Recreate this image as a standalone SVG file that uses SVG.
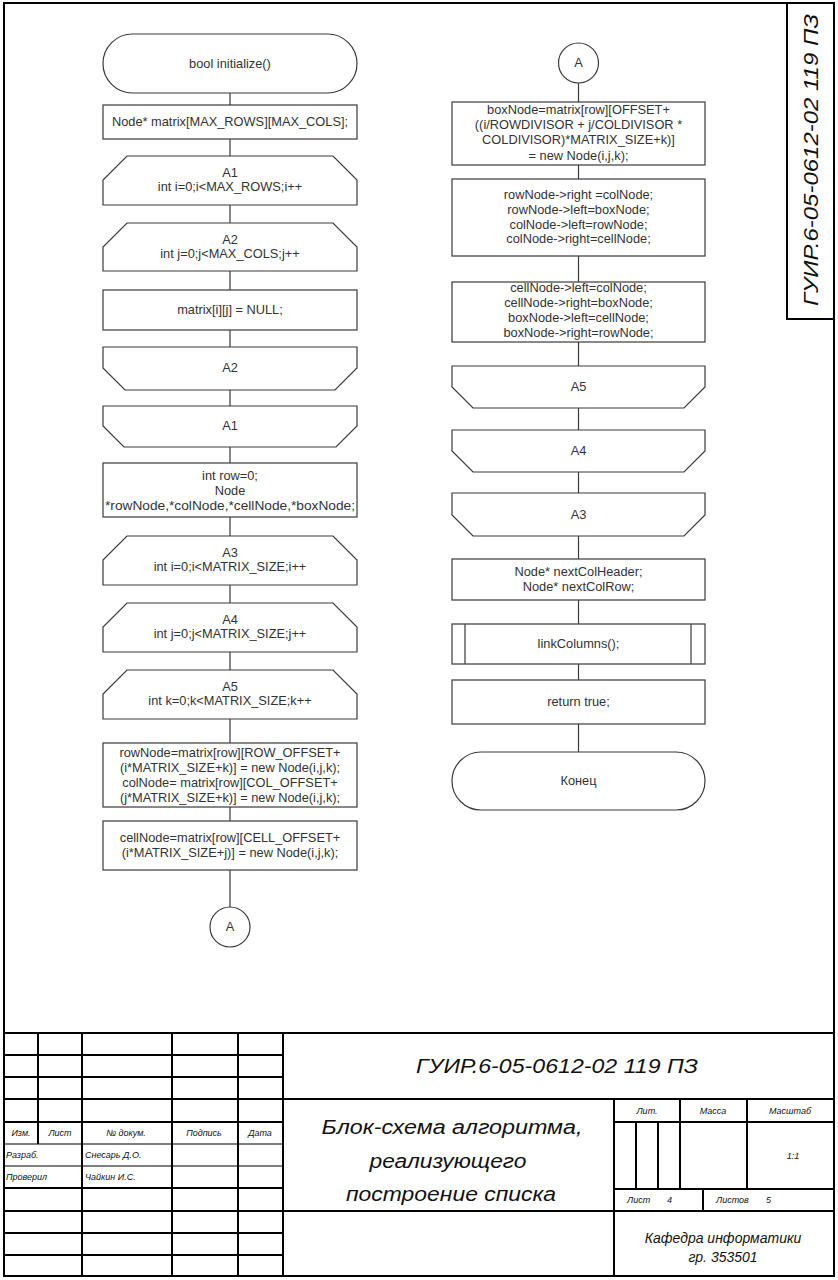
<svg xmlns="http://www.w3.org/2000/svg" width="838" height="1280" viewBox="0 0 838 1280">
<style>
.s{fill:#fff;stroke:#3a3a3a;stroke-width:1.2}
.c{fill:none;stroke:#3a3a3a;stroke-width:1.2}
.t{font-family:"Liberation Sans",Arial,sans-serif;font-size:12.8px;fill:#333;text-anchor:middle}
.f{fill:none;stroke:#000;stroke-width:2}
.fn{fill:none;stroke:#000;stroke-width:1.2}
.g{font-family:"Liberation Sans",Arial,sans-serif;font-style:italic;fill:#111}
.sm{font-size:9px}
.md{font-size:14px}
.lg{font-size:20px}
</style>
<rect width="838" height="1280" fill="#fff"/>
<g id="frame">
<rect class="f" x="4" y="3" width="830" height="1273"/>
<rect class="f" x="787" y="3" width="47" height="316"/>
<text class="g" transform="translate(818,160) rotate(-90)" text-anchor="middle" font-size="20" textLength="292" lengthAdjust="spacingAndGlyphs">ГУИР.6-05-0612-02 119 ПЗ</text>
</g>
<g id="title-block">
<line class="f" x1="4" y1="1033" x2="834" y2="1033"/>
<line class="f" x1="4" y1="1055" x2="283" y2="1055"/>
<line class="f" x1="4" y1="1077" x2="283" y2="1077"/>
<line class="f" x1="4" y1="1099" x2="834" y2="1099"/>
<line class="f" x1="4" y1="1122" x2="283" y2="1122"/>
<line class="fn" x1="4" y1="1144" x2="283" y2="1144"/>
<line class="fn" x1="4" y1="1166" x2="283" y2="1166"/>
<line class="f" x1="4" y1="1188" x2="283" y2="1188"/>
<line class="f" x1="4" y1="1211" x2="834" y2="1211"/>
<line class="f" x1="4" y1="1233" x2="283" y2="1233"/>
<line class="f" x1="4" y1="1255" x2="283" y2="1255"/>
<line class="f" x1="38" y1="1033" x2="38" y2="1144"/>
<line class="f" x1="82" y1="1033" x2="82" y2="1276"/>
<line class="f" x1="172" y1="1033" x2="172" y2="1276"/>
<line class="f" x1="238" y1="1033" x2="238" y2="1276"/>
<line class="f" x1="283" y1="1033" x2="283" y2="1276"/>
<line class="f" x1="614" y1="1099" x2="614" y2="1276"/>
<line class="f" x1="614" y1="1122" x2="834" y2="1122"/>
<line class="f" x1="614" y1="1189" x2="834" y2="1189"/>
<line class="f" x1="680" y1="1099" x2="680" y2="1189"/>
<line class="f" x1="747" y1="1099" x2="747" y2="1189"/>
<line class="f" x1="636" y1="1122" x2="636" y2="1189"/>
<line class="f" x1="658" y1="1122" x2="658" y2="1189"/>
<line class="f" x1="703" y1="1189" x2="703" y2="1211"/>
<text class="g sm" x="21" y="1136" text-anchor="middle">Изм.</text>
<text class="g sm" x="60" y="1136" text-anchor="middle">Лист</text>
<text class="g sm" x="126" y="1136" text-anchor="middle">№ докум.</text>
<text class="g sm" x="204" y="1136" text-anchor="middle">Подпись</text>
<text class="g sm" x="260" y="1136" text-anchor="middle">Дата</text>
<text class="g sm" x="6" y="1158">Разраб.</text>
<text class="g sm" x="85" y="1158">Снесарь Д.О.</text>
<text class="g sm" x="6" y="1180">Проверил</text>
<text class="g sm" x="85" y="1180">Чайкин И.С.</text>
<text class="g lg" x="557" y="1073" text-anchor="middle" textLength="282" lengthAdjust="spacingAndGlyphs">ГУИР.6-05-0612-02 119 ПЗ</text>
<text class="g lg" x="452" y="1134" text-anchor="middle" textLength="261" lengthAdjust="spacingAndGlyphs">Блок-схема алгоритма,</text>
<text class="g lg" x="448" y="1168" text-anchor="middle" textLength="157" lengthAdjust="spacingAndGlyphs">реализующего</text>
<text class="g lg" x="451" y="1201" text-anchor="middle" textLength="210" lengthAdjust="spacingAndGlyphs">построение списка</text>
<text class="g sm" x="647" y="1114" text-anchor="middle">Лит.</text>
<text class="g sm" x="713" y="1114" text-anchor="middle">Масса</text>
<text class="g sm" x="790" y="1114" text-anchor="middle">Масштаб</text>
<text class="g sm" x="793" y="1159" text-anchor="middle">1:1</text>
<text class="g sm" x="627" y="1203">Лист</text>
<text class="g sm" x="667" y="1203">4</text>
<text class="g sm" x="716" y="1203">Листов</text>
<text class="g sm" x="766" y="1203">5</text>
<text class="g md" x="723" y="1243" text-anchor="middle">Кафедра информатики</text>
<text class="g md" x="723" y="1262" text-anchor="middle">гр. 353501</text>
</g>
<g id="connectors">
<line class="c" x1="230" y1="93" x2="230" y2="907"/>
<line class="c" x1="578.5" y1="83" x2="578.5" y2="752"/>
</g>
<g id="n-start"><rect class="s" x="103" y="34" width="254" height="59" rx="29.5"/><text class="t" x="230" y="68">bool initialize()</text></g>
<g id="n-matrix"><rect class="s" x="103" y="105" width="254" height="34"/><text class="t" x="230" y="126">Node* matrix[MAX_ROWS][MAX_COLS];</text></g>
<g id="n-A1"><polygon class="s" points="127,156 333,156 357,180 357,205 103,205 103,180"/><text class="t" x="230" y="177">A1</text><text class="t" x="230" y="191">int i=0;i&lt;MAX_ROWS;i++</text></g>
<g id="n-A2"><polygon class="s" points="127,223 333,223 357,247 357,271 103,271 103,247"/><text class="t" x="230" y="244">A2</text><text class="t" x="230" y="258">int j=0;j&lt;MAX_COLS;j++</text></g>
<g id="n-null"><rect class="s" x="103" y="290" width="254" height="40"/><text class="t" x="230" y="314">matrix[i][j] = NULL;</text></g>
<g id="n-A2end"><polygon class="s" points="103,347 357,347 357,368 335,390 125,390 103,368"/><text class="t" x="230" y="372">A2</text></g>
<g id="n-A1end"><polygon class="s" points="103,406 357,406 357,426 336,447 124,447 103,426"/><text class="t" x="230" y="430">A1</text></g>
<g id="n-row"><rect class="s" x="103" y="463" width="254" height="54"/><text class="t" x="230" y="480">int row=0;</text><text class="t" x="230" y="495">Node</text><text class="t" x="230" y="510" textLength="250" lengthAdjust="spacingAndGlyphs">*rowNode,*colNode,*cellNode,*boxNode;</text></g>
<g id="n-A3"><polygon class="s" points="127,536 333,536 357,560 357,585 103,585 103,560"/><text class="t" x="230" y="557">A3</text><text class="t" x="230" y="571">int i=0;i&lt;MATRIX_SIZE;i++</text></g>
<g id="n-A4"><polygon class="s" points="127,603 333,603 357,627 357,652 103,652 103,627"/><text class="t" x="230" y="624">A4</text><text class="t" x="230" y="638">int j=0;j&lt;MATRIX_SIZE;j++</text></g>
<g id="n-A5"><polygon class="s" points="127,670 333,670 357,694 357,719 103,719 103,694"/><text class="t" x="230" y="691">A5</text><text class="t" x="230" y="705">int k=0;k&lt;MATRIX_SIZE;k++</text></g>
<g id="n-rowNode"><rect class="s" x="103" y="743" width="254" height="64"/><text class="t" x="230" y="757">rowNode=matrix[row][ROW_OFFSET+</text><text class="t" x="230" y="772">(i*MATRIX_SIZE+k)] = new Node(i,j,k);</text><text class="t" x="230" y="787">colNode= matrix[row][COL_OFFSET+</text><text class="t" x="230" y="802">(j*MATRIX_SIZE+k)] = new Node(i,j,k);</text></g>
<g id="n-cellNode"><rect class="s" x="103" y="821" width="254" height="49"/><text class="t" x="230" y="842">cellNode=matrix[row][CELL_OFFSET+</text><text class="t" x="230" y="857">(i*MATRIX_SIZE+j)] = new Node(i,j,k);</text></g>
<g id="n-connA1"><circle class="s" cx="230" cy="927" r="20"/><text class="t" x="230" y="931">A</text></g>
<g id="n-connA2"><circle class="s" cx="578.5" cy="63" r="20"/><text class="t" x="578.5" y="67">A</text></g>
<g id="n-boxNode"><rect class="s" x="452" y="102" width="253" height="63"/><text class="t" x="578.5" y="114">boxNode=matrix[row][OFFSET+</text><text class="t" x="578.5" y="129">((i/ROWDIVISOR + j/COLDIVISOR *</text><text class="t" x="578.5" y="144">COLDIVISOR)*MATRIX_SIZE+k)]</text><text class="t" x="578.5" y="160">= new Node(i,j,k);</text></g>
<g id="n-links1"><rect class="s" x="452" y="179" width="253" height="77"/><text class="t" x="578.5" y="199">rowNode-&gt;right =colNode;</text><text class="t" x="578.5" y="214">rowNode-&gt;left=boxNode;</text><text class="t" x="578.5" y="229">colNode-&gt;left=rowNode;</text><text class="t" x="578.5" y="243">colNode-&gt;right=cellNode;</text></g>
<g id="n-links2"><rect class="s" x="452" y="282" width="253" height="60"/><text class="t" x="578.5" y="292">cellNode-&gt;left=colNode;</text><text class="t" x="578.5" y="307">cellNode-&gt;right=boxNode;</text><text class="t" x="578.5" y="322">boxNode-&gt;left=cellNode;</text><text class="t" x="578.5" y="337">boxNode-&gt;right=rowNode;</text></g>
<g id="n-A5end"><polygon class="s" points="452,366 705,366 705,387 684,408 473,408 452,387"/><text class="t" x="578.5" y="391">A5</text></g>
<g id="n-A4end"><polygon class="s" points="452,430 705,430 705,451 684,472 473,472 452,451"/><text class="t" x="578.5" y="455">A4</text></g>
<g id="n-A3end"><polygon class="s" points="452,493 705,493 705,515 684,536 473,536 452,515"/><text class="t" x="578.5" y="519">A3</text></g>
<g id="n-nextCol"><rect class="s" x="452" y="559" width="253" height="41"/><text class="t" x="578.5" y="576">Node* nextColHeader;</text><text class="t" x="578.5" y="591">Node* nextColRow;</text></g>
<g id="n-link"><rect class="s" x="452" y="624" width="253" height="40"/><line class="c" x1="465" y1="624" x2="465" y2="664"/><line class="c" x1="691" y1="624" x2="691" y2="664"/><text class="t" x="578.5" y="648">linkColumns();</text></g>
<g id="n-return"><rect class="s" x="452" y="680" width="253" height="44"/><text class="t" x="578.5" y="706">return true;</text></g>
<g id="n-end"><rect class="s" x="452" y="752" width="253" height="58" rx="29"/><text class="t" x="578.5" y="785">Конец</text></g>
</svg>
